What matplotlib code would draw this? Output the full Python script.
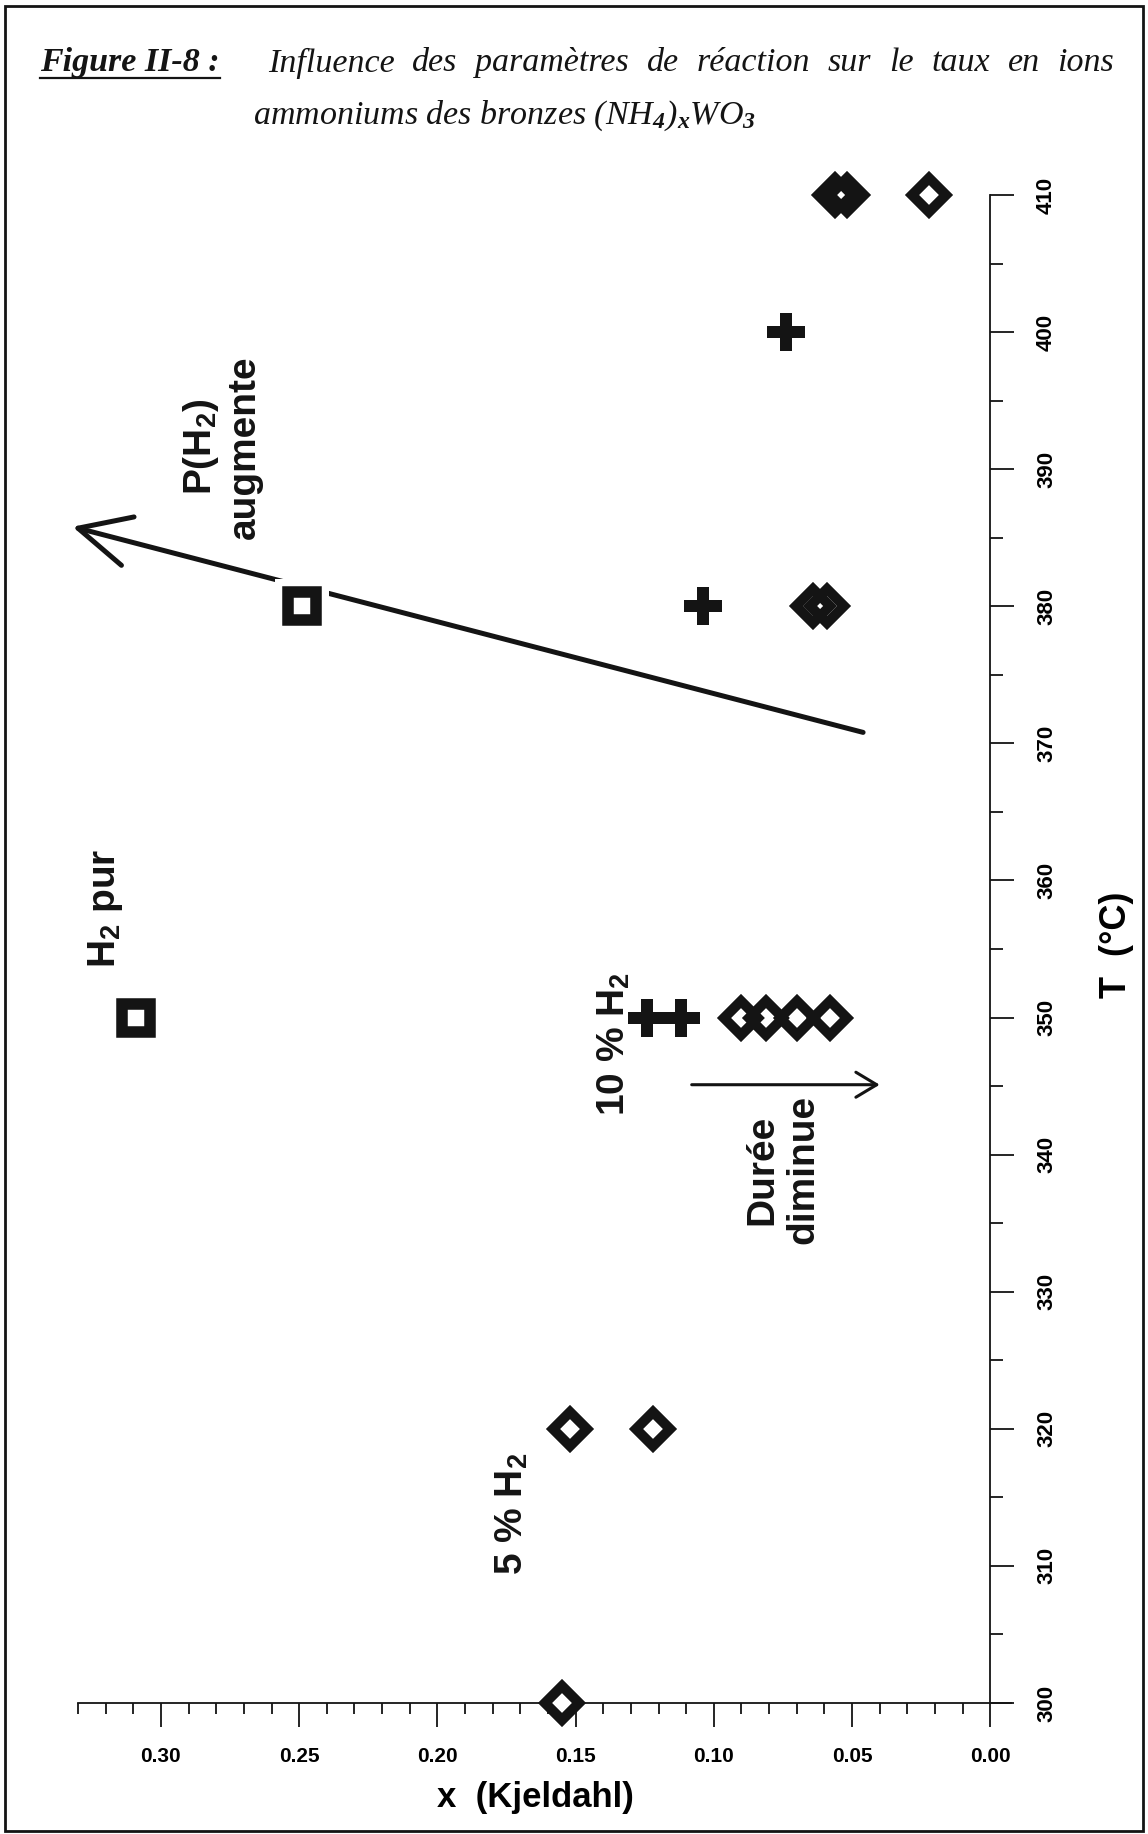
import numpy as np
import matplotlib.pyplot as plt
from matplotlib.ticker import FixedLocator, MultipleLocator
from matplotlib.patches import Rectangle
from matplotlib.lines import Line2D

plt.rcParams['font.family'] = ['Liberation Sans', 'DejaVu Sans']
plt.rcParams['font.weight'] = 'bold'
plt.rcParams['mathtext.fontset'] = 'custom'
plt.rcParams['mathtext.rm'] = 'Liberation Serif:italic'
plt.rcParams['mathtext.it'] = 'Liberation Serif:italic'
plt.rcParams['mathtext.bf'] = 'Liberation Sans:bold'

ink = '#141414'

# values: x (Kjeldahl) against T (degC)
sq_x = [0.309, 0.249]          # H2 pur
sq_T = [350, 380]
plus_x = [0.124, 0.112, 0.104, 0.074]   # 10 % H2
plus_T = [350, 350, 380, 400]
dia_x = [0.155, 0.152, 0.122, 0.090, 0.081, 0.070, 0.058,
         0.064, 0.059, 0.056, 0.052, 0.022]   # 5 % H2 and durations
dia_T = [300, 320, 320, 350, 350, 350, 350, 380, 380, 410, 410, 410]

x_ticks = [0.30, 0.25, 0.20, 0.15, 0.10, 0.05, 0.00]
T_ticks = [300, 310, 320, 330, 340, 350, 360, 370, 380, 390, 400, 410]

# arrows (start, end) in data units
arrow_p = [(0.046, 370.8), (0.332, 385.8)]
arrow_duree = [(0.108, 345.1), (0.040, 345.1)]

W, H = 1148, 1834
fig = plt.figure(figsize=(W / 100, H / 100), dpi=100)
ax = fig.add_axes([78 / W, 131 / H, 933 / W, 1508 / H])
ax.set_xlim(0.33, -0.0075)
ax.set_ylim(300, 410)

for s in ['top', 'left']:
    ax.spines[s].set_visible(False)
ax.spines['right'].set_position(('data', 0))
for s in ['right', 'bottom']:
    ax.spines[s].set_linewidth(1.3)
    ax.spines[s].set_color(ink)

ax.set_xticks(x_ticks, labels=[f'{v:.2f}' for v in x_ticks])
ax.xaxis.set_minor_locator(FixedLocator(np.arange(0.01, 0.335, 0.01)))
ax.set_yticks(T_ticks, labels=[str(v) for v in T_ticks])
ax.yaxis.set_minor_locator(MultipleLocator(5))
ax.yaxis.tick_right()

ax.tick_params(axis='x', which='major', direction='out', length=17, width=1.3,
               pad=15, labelsize=15, color=ink)
ax.tick_params(axis='x', which='minor', direction='out', length=8, width=1.3, color=ink)
ax.tick_params(axis='y', which='major', direction='out', length=17, width=1.3,
               pad=16, labelsize=16, labelrotation=90, color=ink)
ax.tick_params(axis='y', which='minor', direction='out', length=9, width=1.3, color=ink)
for lab in ax.get_yticklabels():
    lab.set_verticalalignment('center')

ax.set_xlabel('x  (Kjeldahl)', fontsize=25, fontweight='bold')
ax.xaxis.set_label_coords((535 - 78) / 933, (1703 - 1798) / 1508)
ax.xaxis.label.set_va('center')
ax.yaxis.set_label_position('right')
ax.set_ylabel('T  (°C)', fontsize=26, fontweight='bold', rotation=90)
ax.yaxis.set_label_coords((1117 - 78) / 933, (1703 - 945) / 1508)
ax.yaxis.label.set_va('center')
ax.yaxis.label.set_ha('center')

# big arrow "P(H2) augmente"
ax.annotate('', xy=arrow_p[1], xytext=arrow_p[0], annotation_clip=False,
            arrowprops=dict(arrowstyle='->,head_length=3.7,head_width=1.8',
                            lw=3.6, color=ink, shrinkA=0, shrinkB=0,
                            mutation_scale=10), zorder=2)
# small arrow "Durée diminue"
ax.annotate('', xy=arrow_duree[1], xytext=arrow_duree[0], annotation_clip=False,
            arrowprops=dict(arrowstyle='->,head_length=1.5,head_width=0.9',
                            lw=2.2, color=ink, shrinkA=0, shrinkB=0,
                            mutation_scale=10), zorder=2)

# markers
ax.plot(sq_x, sq_T, ls='none', marker='s', ms=39, mfc='white', mew=0,
        clip_on=False, zorder=3)
ax.plot(sq_x, sq_T, ls='none', marker='s', ms=20.5, mfc='white', mec=ink,
        mew=8.3, clip_on=False, zorder=4)
ax.plot(plus_x, plus_T, ls='none', marker='P', ms=28, mfc=ink, mew=0,
        clip_on=False, zorder=4)
ax.plot(dia_x, dia_T, ls='none', marker='D', ms=17.5, mfc='white', mec=ink,
        mew=7, clip_on=False, zorder=4)
ax.plot(dia_x, dia_T, ls='none', marker='D', ms=17.5, mfc='none', mec=ink,
        mew=7, clip_on=False, zorder=5)

# annotations
txt = dict(rotation=90, ha='center', va='center', fontsize=28,
           fontweight='bold', color=ink, multialignment='center')
ax.text(0.320, 358.0, 'H$_\\mathbf{2}$ pur', **txt)
ax.text(0.173, 313.8, '5 % H$_\\mathbf{2}$', **txt)
ax.text(0.136, 348.1, '10 % H$_\\mathbf{2}$', **txt)
ax.text(0.075, 338.9, 'Durée\ndiminue', **txt)
ax.text(0.278, 391.6, 'P(H$_\\mathbf{2}$)\naugmente', **txt)

# title
serif = dict(family='Liberation Serif', style='italic', fontsize=24.5,
             va='center', ha='left', color=ink)
y1 = 1 - 63 / H
y2 = 1 - 116 / H
head = fig.text(40 / W, y1, 'Figure II-8 :', weight='bold', **serif)
words = ['Influence', 'des', 'paramètres', 'de', 'réaction', 'sur', 'le',
         'taux', 'en', 'ions']
wtexts = [fig.text(0, y1, w, weight='normal', **serif) for w in words]
fig.text(253 / W, y2, 'ammoniums des bronzes (NH$_4$)$_x$WO$_3$',
         weight='normal', **serif)

fig.canvas.draw()
rend = fig.canvas.get_renderer()
widths = [t.get_window_extent(rend).width for t in wtexts]
x0, x1 = 268, 1114
gap = (x1 - x0 - sum(widths)) / (len(words) - 1)
xp = x0
for t, w in zip(wtexts, widths):
    t.set_x(xp / W)
    xp += w + gap

hb = head.get_window_extent(rend)
fig.add_artist(Line2D([hb.x0 / W, hb.x1 / W], [1 - 78 / H, 1 - 78 / H],
                      transform=fig.transFigure, color=ink, lw=1.6))

# frame around the figure
fig.add_artist(Rectangle((5 / W, 3 / H), (1143 - 5) / W, (1830 - 5) / H,
                         transform=fig.transFigure, fill=False, lw=2, ec=ink))

fig.savefig('out.png', dpi=100)
